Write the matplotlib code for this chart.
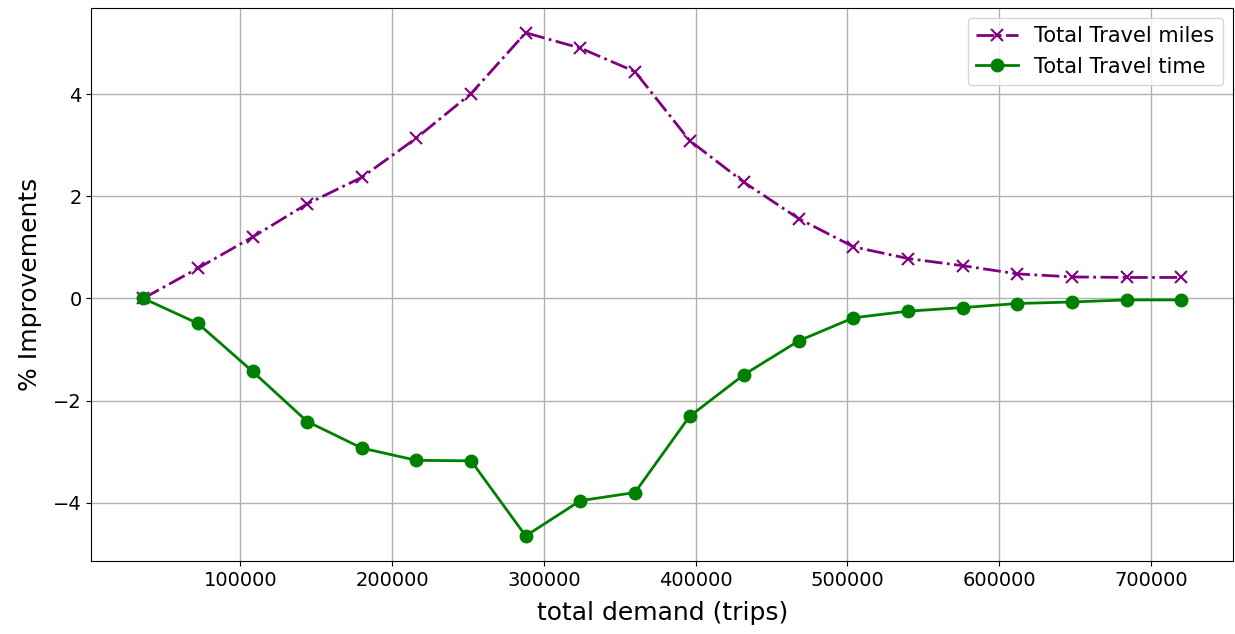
import numpy as np
import matplotlib.pyplot as plt

demand = np.arange(1, 21) * 36000
miles = [0.0, 0.59, 1.20, 1.85, 2.37, 3.14, 4.01, 5.20, 4.90, 4.44,
         3.09, 2.27, 1.56, 1.01, 0.78, 0.64, 0.48, 0.42, 0.41, 0.41]
time = [0.0, -0.49, -1.43, -2.41, -2.93, -3.17, -3.18, -4.65, -3.96, -3.80,
        -2.31, -1.49, -0.83, -0.38, -0.25, -0.18, -0.10, -0.07, -0.03, -0.03]

fig = plt.figure(figsize=(12.35, 6.34), dpi=100)
ax = fig.add_axes([0.074, 0.115, 0.9245, 0.873])

ax.plot(demand, miles, "x-.", color="purple", lw=2, ms=9, mew=1.5, label="Total Travel miles")
ax.plot(demand, time, "o-", color="green", lw=2, ms=9, label="Total Travel time")

ax.grid(True, color="#b0b0b0", lw=1)
ax.tick_params(labelsize=14)
ax.set_xlabel("total demand (trips)", fontsize=18, labelpad=8)
ax.set_ylabel("% Improvements", fontsize=18, labelpad=8)
ax.legend(loc="upper right", fontsize=15)

fig.savefig("out.png", dpi=100)
